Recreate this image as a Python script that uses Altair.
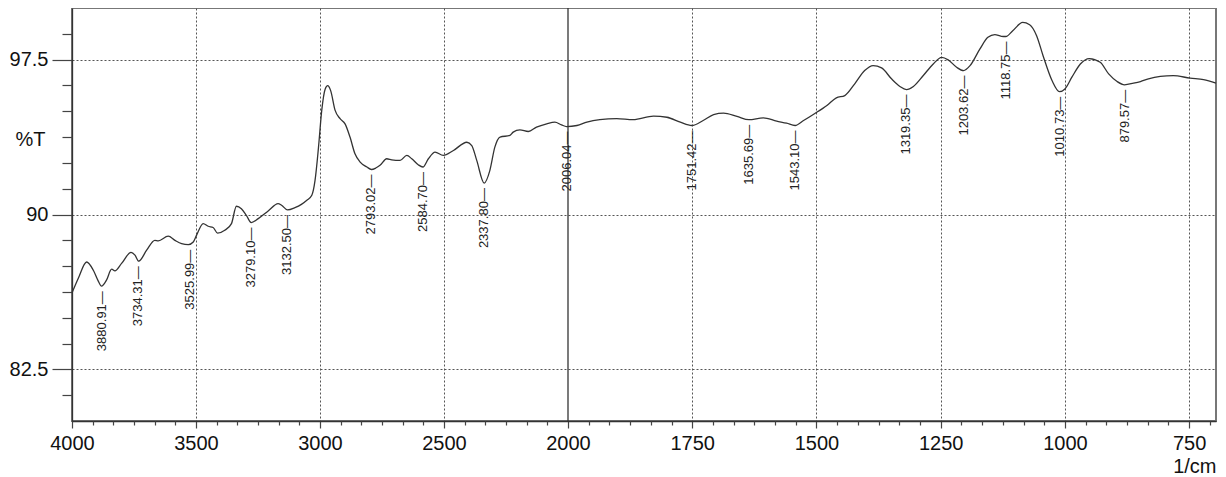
import altair as alt
import pandas as pd

# ---- spectrum (wavenumber in 1/cm, transmittance in %T) ----
wavenumber = [
    4000, 3975, 3941, 3914, 3895, 3881, 3861, 3840, 3827, 3800, 3762, 3746, 3731,
    3699, 3666, 3652, 3612, 3585, 3558, 3531, 3511, 3498, 3471, 3451, 3431, 3413,
    3384, 3357, 3337, 3317, 3297, 3277, 3249, 3209, 3169, 3155, 3131, 3101, 3075,
    3053, 3033, 3020, 3006, 2993, 2979, 2969, 2957, 2939, 2919, 2899, 2879, 2859,
    2838, 2811, 2793, 2775, 2758, 2731, 2711, 2677, 2650, 2630, 2604, 2585, 2563,
    2536, 2503, 2462, 2408, 2388, 2368, 2338, 2315, 2295, 2274, 2234, 2221, 2194,
    2160, 2127, 2086, 2053, 2026, 2006, 1982, 1962, 1936, 1902, 1869, 1828, 1801,
    1774, 1751, 1728, 1707, 1687, 1660, 1636, 1607, 1580, 1560, 1543, 1526, 1504,
    1479, 1460, 1443, 1423, 1403, 1386, 1369, 1349, 1332, 1319, 1305, 1285, 1265,
    1248, 1235, 1218, 1204, 1191, 1171, 1155, 1141, 1128, 1119, 1105, 1085, 1071,
    1057, 1044, 1026, 1011, 1000, 986, 969, 951, 929, 912, 895, 880, 862, 848,
    832, 808, 782, 748, 721, 696,
]
transmittance = [
    86.20, 86.90, 87.70, 87.30, 86.80, 86.53, 86.82, 87.35, 87.27, 87.63, 88.17, 88.03, 87.74,
    88.27, 88.75, 88.72, 88.95, 88.75, 88.59, 88.54, 88.67, 88.99, 89.56, 89.43, 89.37, 89.10,
    89.24, 89.56, 90.40, 90.28, 89.96, 89.61, 89.80, 90.17, 90.53, 90.45, 90.22, 90.33, 90.49,
    90.69, 90.93, 91.65, 93.26, 95.04, 96.08, 96.24, 96.00, 95.04, 94.64, 94.39, 93.75, 92.94,
    92.54, 92.30, 92.18, 92.25, 92.38, 92.70, 92.65, 92.62, 92.86, 92.70, 92.41, 92.30, 92.70,
    93.02, 92.86, 93.10, 93.50, 93.34, 92.62, 91.52, 92.14, 93.26, 93.75, 93.83, 93.99, 94.10,
    94.02, 94.23, 94.39, 94.47, 94.34, 94.26, 94.31, 94.47, 94.59, 94.64, 94.59, 94.76, 94.71,
    94.47, 94.31, 94.55, 94.84, 94.91, 94.75, 94.59, 94.68, 94.52, 94.42, 94.31, 94.55, 94.88,
    95.28, 95.65, 95.76, 96.33, 96.97, 97.21, 97.10, 96.57, 96.20, 96.05, 96.20, 96.73, 97.29,
    97.61, 97.49, 97.13, 96.97, 97.21, 98.02, 98.58, 98.71, 98.63, 98.62, 98.90, 99.30, 99.19,
    98.66, 97.69, 96.49, 95.95, 96.08, 96.65, 97.29, 97.55, 97.37, 96.81, 96.44, 96.28, 96.36, 96.44,
    96.57, 96.69, 96.73, 96.60, 96.53, 96.36,
]

# ---- peak annotations ----
peak_label = ["3880.91", "3734.31", "3525.99", "3279.10", "3132.50", "2793.02", "2584.70",
              "2337.80", "2006.04", "1751.42", "1635.69", "1543.10", "1319.35", "1203.62",
              "1118.75", "1010.73", "879.57"]
peak_wn = [3880.91, 3734.31, 3525.99, 3279.10, 3132.50, 2793.02, 2584.70, 2337.80, 2006.04,
           1751.42, 1635.69, 1543.10, 1319.35, 1203.62, 1118.75, 1010.73, 879.57]
peak_t = [86.53, 87.74, 88.54, 89.61, 90.22, 92.18, 92.30, 91.52, 94.26, 94.31, 94.59, 94.31,
          96.05, 96.97, 98.62, 95.95, 96.28]

# ---- axis ticks ----
x_major = [4000, 3500, 3000, 2500, 2000, 1750, 1500, 1250, 1000, 750]
x_minor = []
for a, b in zip(x_major[:-1], x_major[1:]):
    for k in range(1, 6):
        x_minor.append(round(a - (a - b) * k / 6, 3))
x_minor.append(round(750 - 250 / 6, 3))
x_grid = [3500, 3000, 2500, 1750, 1500, 1250, 1000, 750]

y_major = [82.5, 90, 97.5]
y_minor = [81.25, 83.75, 85, 86.25, 87.5, 88.75, 91.25, 92.5, 93.75, 95, 96.25, 98.75]
break_wn = [2000]

spec_df = pd.DataFrame({"wn": wavenumber, "t": transmittance})
peak_df = pd.DataFrame({"wn": peak_wn, "t": peak_t, "label": peak_label})
break_df = pd.DataFrame({"wn": break_wn})

W, H = 1144, 413
x_scale = alt.Scale(domain=[4000, 2000, 696], range=[0, 496, W], nice=False, zero=False)
y_scale = alt.Scale(domain=[80, 100], nice=False, zero=False)

grid_x_test = "indexof([" + ",".join(str(v) for v in x_grid) + "], datum.value) >= 0"

x_axis_major = alt.Axis(
    orient="bottom",
    values=x_major,
    format="d",
    tickSize=7,
    labelPadding=5,
    grid=True,
    gridDash=[2, 2],
    gridColor="#555",
    gridWidth=1,
    gridOpacity={"condition": {"test": grid_x_test, "value": 1}, "value": 0},
    title="1/cm",
    titleAnchor="end",
    titleAlign="right",
    titleBaseline="alphabetic",
    titleX=W,
    titleY=51,
    titleFontSize=20,
    titleFontWeight="normal",
    titleFont="Liberation Sans",
    titleColor="#111",
)
x_axis_minor = alt.Axis(
    orient="bottom", values=x_minor, tickSize=4, labels=False, domain=False,
    grid=False, title=None,
)
y_axis_major = alt.Axis(
    orient="left",
    values=y_major,
    format=".1~f",
    tickSize=20,
    labelPadding=4,
    grid=True,
    gridDash=[2, 2],
    gridColor="#555",
    gridWidth=1,
    title="%T",
    titleAngle=0,
    titleAlign="right",
    titleBaseline="middle",
    titleAnchor="start",
    titleX=-27,
    titleY=(100 - 93.75) / 20 * H + 2,
    titleFontSize=20,
    titleFontWeight="normal",
    titleFont="Liberation Sans",
    titleColor="#111",
)
y_axis_minor = alt.Axis(
    orient="left", values=y_minor, tickSize=10, labels=False, domain=False,
    grid=False, title=None,
)

rule = alt.Chart(break_df).mark_rule(color="#333", strokeWidth=1.3).encode(
    x=alt.X("wn:Q", scale=x_scale, axis=None),
)

line = alt.Chart(spec_df).mark_line(color="#333", strokeWidth=1.3, interpolate="monotone").encode(
    x=alt.X("wn:Q", scale=x_scale, axis=x_axis_major),
    y=alt.Y("t:Q", scale=y_scale, axis=y_axis_major),
)

labels = alt.Chart(peak_df).transform_calculate(
    txt="datum.label + '\u2014'"
).mark_text(
    angle=270, align="right", baseline="middle", dx=-5,
    fontSize=13, font="Liberation Sans", color="#222",
).encode(
    x=alt.X("wn:Q", scale=x_scale, axis=x_axis_minor),
    y=alt.Y("t:Q", scale=y_scale, axis=y_axis_minor),
    text="txt:N",
)

chart = alt.layer(rule, line, labels).resolve_scale(
    x="shared", y="shared"
).resolve_axis(
    x="independent", y="independent"
).properties(
    width=W,
    height=H,
    autosize=alt.AutoSizeParams(type="none"),
    padding={"left": 64, "top": 0, "right": 2, "bottom": 56},
).configure_view(
    stroke="#777", strokeWidth=2
).configure_axis(
    labelFont="Liberation Sans",
    labelFontSize=20,
    labelColor="#111",
    domainColor="#333",
    domainWidth=1.3,
    tickColor="#444",
    tickWidth=1.2,
    labelFlush=False,
    labelOverlap=False,
)

chart.save("out.html", embed_options={"renderer": "svg", "actions": False})
